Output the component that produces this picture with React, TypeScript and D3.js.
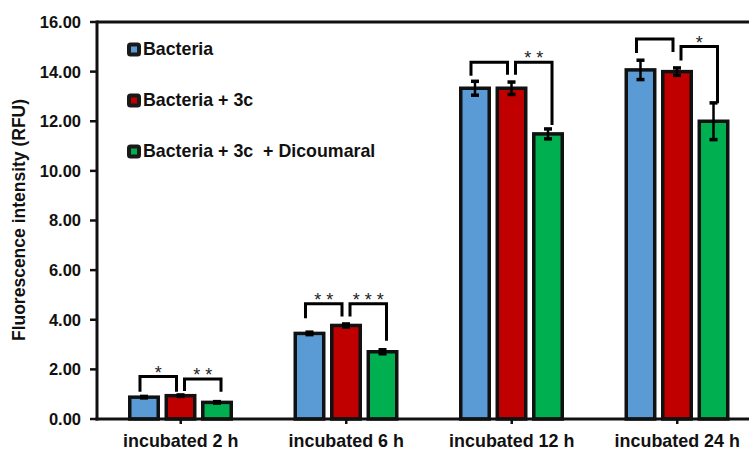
import React from 'react';
import * as d3 from 'd3';

// data
const categories = ['incubated 2 h', 'incubated 6 h', 'incubated 12 h', 'incubated 24 h'];
const seriesNames = ['Bacteria', 'Bacteria + 3c', 'Bacteria + 3c  + Dicoumaral'];
const seriesColors = ['#5B9BD5', '#C00000', '#00B050'];

const bacteria = [0.88, 3.45, 13.33, 14.07];
const bacteria3c = [0.94, 3.77, 13.33, 14.0];
const dicoumaral = [0.67, 2.71, 11.49, 12.0];

const errBacteria = [0.03, 0.05, 0.28, 0.39];
const err3c = [0.03, 0.06, 0.25, 0.15];
const errDicoumaral = [0.03, 0.08, 0.2, 0.74];

const yTicks = [0, 2, 4, 6, 8, 10, 12, 14, 16];

// significance brackets: category, from series, to series, top, left leg end, right leg end
const brackets = [
  { cat: 0, from: 0, to: 1, top: 1.71, y1: 1.1, y2: 1.1, label: '*' },
  { cat: 0, from: 1, to: 2, top: 1.61, y1: 1.13, y2: 1.1, label: '* *' },
  { cat: 1, from: 0, to: 1, top: 4.64, y1: 4.06, y2: 4.13, label: '* *' },
  { cat: 1, from: 1, to: 2, top: 4.64, y1: 4.13, y2: 3.15, label: '* * *' },
  { cat: 2, from: 0, to: 1, top: 14.38, y1: 13.83, y2: 13.87, label: '' },
  { cat: 2, from: 1, to: 2, top: 14.38, y1: 13.87, y2: 11.85, label: '* *' },
  { cat: 3, from: 0, to: 1, top: 15.31, y1: 14.75, y2: 14.79, label: '' },
  { cat: 3, from: 1, to: 2, top: 15.01, y1: 14.45, y2: 12.73, label: '*' },
];

const values = [bacteria, bacteria3c, dicoumaral];
const errors = [errBacteria, err3c, errDicoumaral];

const width = 749;
const height = 450;
const font = '"Liberation Sans", Arial, sans-serif';
const ink = '#111';

const App = () => {
  const x0 = d3.scaleBand().domain(categories).range([98, 760]);
  const x1 = d3
    .scaleBand()
    .domain(seriesNames)
    .range([31.75, 133.25])
    .paddingInner(0.22);
  const y = d3.scaleLinear().domain([0, 16]).range([419, 22]);

  const barCenter = (c, s) => x0(categories[c]) + x1(seriesNames[s]) + x1.bandwidth() / 2;

  return (
    <svg
      width={width}
      height={height}
      style={{ position: 'absolute', left: 0, top: 0, background: '#fff' }}
      fontFamily={font}
    >
      {/* bars */}
      {values.map((vals, s) =>
        vals.map((v, c) => (
          <rect
            key={`b${s}-${c}`}
            x={x0(categories[c]) + x1(seriesNames[s])}
            y={y(v)}
            width={x1.bandwidth()}
            height={y(0) - y(v)}
            fill={seriesColors[s]}
            stroke={ink}
            strokeWidth={3.5}
          />
        ))
      )}

      {/* error bars */}
      {values.map((vals, s) =>
        vals.map((v, c) => {
          const cx = barCenter(c, s);
          const e = errors[s][c];
          return (
            <g key={`e${s}-${c}`} stroke="#000">
              <line x1={cx} x2={cx} y1={y(v + e)} y2={y(v - e)} strokeWidth={2.5} />
              <line x1={cx - 4} x2={cx + 4} y1={y(v + e)} y2={y(v + e)} strokeWidth={3.5} />
              <line x1={cx - 4} x2={cx + 4} y1={y(v - e)} y2={y(v - e)} strokeWidth={3.5} />
            </g>
          );
        })
      )}

      {/* brackets */}
      {brackets.map((b, i) => {
        const off = b.from === 0 ? -4 : 4;
        const xa = barCenter(b.cat, b.from) + off;
        const xb = barCenter(b.cat, b.to) + off;
        return (
          <g key={`k${i}`}>
            <path
              d={`M${xa},${y(b.y1)}V${y(b.top)}H${xb}V${y(b.y2)}`}
              fill="none"
              stroke="#000"
              strokeWidth={3}
            />
            {b.label && (
              <text
                x={(xa + xb) / 2}
                y={y(b.top) + 2}
                textAnchor="middle"
                fontSize={18}
                fill="#222"
                style={{ whiteSpace: 'pre' }}
              >
                {b.label}
              </text>
            )}
          </g>
        );
      })}

      {/* axes */}
      <line x1={97} x2={width} y1={y(16)} y2={y(16)} stroke={ink} strokeWidth={3} />
      <line x1={97} x2={97} y1={y(16) - 1.5} y2={y(0) + 1.5} stroke={ink} strokeWidth={3} />
      <line x1={95.5} x2={width} y1={y(0)} y2={y(0)} stroke={ink} strokeWidth={3} />
      {yTicks.map((t) => (
        <g key={`t${t}`}>
          <line x1={90} x2={97} y1={y(t)} y2={y(t)} stroke={ink} strokeWidth={2.5} />
          <text
            x={81}
            y={y(t)}
            dy="0.36em"
            textAnchor="end"
            fontSize={16.5}
            fontWeight="bold"
            fill="#111"
          >
            {t.toFixed(2)}
          </text>
        </g>
      ))}
      {categories.map((c) => {
        const cx = x0(c) + x0.bandwidth() / 2;
        return (
          <g key={c}>
            <line x1={cx} x2={cx} y1={y(0)} y2={y(0) + 5} stroke={ink} strokeWidth={2.5} />
            <text x={cx} y={446.5} textAnchor="middle" fontSize={17.9} fontWeight="bold" fill="#111">
              {c}
            </text>
          </g>
        );
      })}

      <text
        transform={`translate(25,220) rotate(-90)`}
        textAnchor="middle"
        fontSize={17.5}
        fontWeight="bold"
        fill="#111"
      >
        Fluorescence intensity (RFU)
      </text>

      {/* legend */}
      {seriesNames.map((n, i) => {
        const ly = 49 + i * 51;
        return (
          <g key={n}>
            <rect
              x={129}
              y={ly - 4.5}
              width={10}
              height={10}
              rx={1.5}
              fill={seriesColors[i]}
              stroke="#1a1a1a"
              strokeWidth={4}
            />
            <text
              x={143}
              y={ly + 6}
              fontSize={17.8}
              fontWeight="bold"
              fill="#111"
              style={{ whiteSpace: 'pre' }}
            >
              {n}
            </text>
          </g>
        );
      })}
    </svg>
  );
};

export default App;
